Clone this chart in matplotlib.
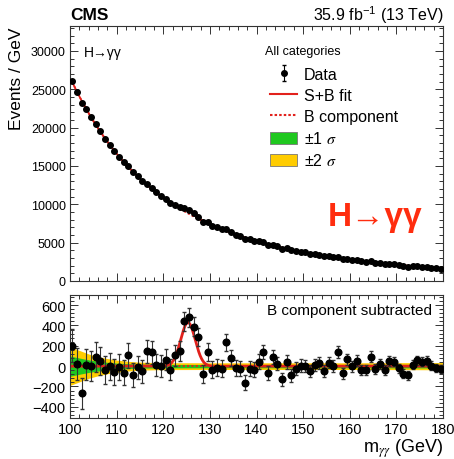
import numpy as np
import matplotlib
matplotlib.use("Agg")
import matplotlib.pyplot as plt
from matplotlib.lines import Line2D
from matplotlib.patches import Patch
from matplotlib.ticker import MultipleLocator

plt.rcParams['font.family'] = ['Liberation Sans', 'DejaVu Sans']
plt.rcParams['mathtext.fontset'] = 'stix'

# diphoton mass bins (1 GeV wide)
mgg = np.arange(100.5, 180.0, 1.0)

# fitted background component, events / GeV
bkg = [25910, 24670, 23510, 22410, 21370, 20390, 19470, 18590, 17770, 16980,
       16240, 15540, 14880, 14250, 13650, 13080, 12540, 12030, 11550, 11090,
       10650, 10230, 9830, 9450, 9090, 8750, 8420, 8110, 7810, 7530,
       7260, 7000, 6750, 6520, 6290, 6070, 5870, 5670, 5480, 5300,
       5120, 4950, 4790, 4640, 4490, 4350, 4210, 4080, 3960, 3840,
       3720, 3610, 3500, 3400, 3300, 3200, 3110, 3020, 2930, 2850,
       2770, 2690, 2610, 2540, 2470, 2400, 2340, 2270, 2210, 2150,
       2090, 2040, 1980, 1930, 1880, 1830, 1780, 1740, 1690, 1650]

# data minus background component, events / GeV
residual = [200, 20, -265, 15, 0, 90, 50, -35, 0, -60,
            -10, -65, 105, -85, -12, -50, 145, 135, 15, 0,
            65, -35, 105, 145, 440, 480, 390, 285, -75, 140,
            -35, -15, -25, 235, 80, -20, -25, -165, -25, -35,
            45, 140, -65, 90, 25, -130, 40, -90, -25, 5,
            0, -50, 15, 30, -45, 35, 0, 140, -70, 70,
            0, 55, -35, -35, 95, -25, 25, -35, 50, 45,
            -20, -75, -90, 15, 60, 45, 55, 5, -20, -25]

# fitted signal peak
sig_mass = 125.3
sig_width = 1.55
sig_peak = 430.0

# background uncertainty bands
band_m = [100, 102, 104, 106, 108, 110, 112, 114, 116, 118, 120,
          130, 140, 150, 160, 170, 180]
band_1s = [100, 80, 62, 48, 38, 30, 25, 21, 19, 18, 17,
           16, 16, 16, 16, 17, 18]
band_2s = [190, 155, 120, 95, 75, 60, 50, 42, 38, 36, 34,
           33, 33, 33, 33, 34, 36]

bkg = np.array(bkg, float)
residual = np.array(residual, float)
data = bkg + residual
err = np.sqrt(data)


def signal(m):
    return sig_peak * np.exp(-0.5 * ((m - sig_mass) / sig_width) ** 2)


RED = '#e2211c'
GREEN = '#1fc81f'
YELLOW = '#ffcc00'
FRAME = '#333333'

W, H = 454, 460
fig = plt.figure(figsize=(W / 100, H / 100), dpi=100)
ax = fig.add_axes([70 / W, 1 - 282 / H, 373 / W, 255 / H])
ax2 = fig.add_axes([70 / W, 1 - 419 / H, 373 / W, 123 / H])


def px_to_ax(a, x, y, top, height):
    """Figure pixel position to axes fraction for the given panel."""
    return (x - 70) / 373, 1 - (y - top) / height


for a in (ax, ax2):
    for s in a.spines.values():
        s.set_color(FRAME)
        s.set_linewidth(0.8)
    a.set_xlim(100, 180)
    a.xaxis.set_major_locator(MultipleLocator(10))
    a.xaxis.set_minor_locator(MultipleLocator(2))
    a.tick_params(which='both', direction='in', top=True, right=True,
                  color=FRAME, width=0.7)
    a.tick_params(which='major', length=6)
    a.tick_params(which='minor', length=3)

# upper panel
ax.set_ylim(0, 33250)
ax.yaxis.set_major_locator(MultipleLocator(5000))
ax.yaxis.set_minor_locator(MultipleLocator(1000))
ax.tick_params(axis='x', labelbottom=False)
ax.tick_params(axis='y', labelsize=9, pad=3)

ax.plot(mgg, bkg, ls=(0, (1.2, 1.2)), color=RED, lw=1.3, zorder=2)
ax.plot(mgg, bkg + signal(mgg), color=RED, lw=1.3, zorder=2)
cont = ax.errorbar(mgg, data, yerr=err, fmt='o', color='k', ms=4.0,
                   elinewidth=0.8, capsize=1.2, zorder=3)

handles = [cont,
           Line2D([], [], color=RED, lw=1.5),
           Line2D([], [], color=RED, lw=1.5, ls=(0, (1.2, 1.0))),
           Patch(facecolor=GREEN, edgecolor='#777777', lw=0.6),
           Patch(facecolor=YELLOW, edgecolor='#777777', lw=0.6)]
labels = ['Data', 'S+B fit', 'B component', '±1 $\\sigma$', '±2 $\\sigma$']
leg = ax.legend(handles, labels, loc='upper left',
                bbox_to_anchor=px_to_ax(ax, 270, 68, 27, 255),
                frameon=False, fontsize=11.5, borderpad=0,
                borderaxespad=0, handlelength=1.7, handletextpad=0.4,
                labelspacing=0.38, handleheight=0.8)
ax.text(*px_to_ax(ax, 265, 55, 27, 255), 'All categories', transform=ax.transAxes,
        fontsize=9, ha='left', va='baseline')

ax.text(*px_to_ax(ax, 84, 57, 27, 255), 'H→γγ', transform=ax.transAxes,
        fontsize=10, va='baseline', ha='left')
ax.text(*px_to_ax(ax, 328, 226, 27, 255), 'H→γγ', transform=ax.transAxes,
        fontsize=24, fontweight='bold', color='#ff2d0f', va='baseline', ha='left')

# lower panel
ax2.set_ylim(-510, 700)
ax2.yaxis.set_major_locator(MultipleLocator(200))
ax2.yaxis.set_minor_locator(MultipleLocator(40))
ax2.tick_params(axis='both', labelsize=10.5, pad=3)
ax2.set_xticks(np.arange(100, 181, 10))

ax2.fill_between(band_m, -np.array(band_2s), band_2s, color=YELLOW, lw=0, zorder=1)
ax2.fill_between(band_m, -np.array(band_1s), band_1s, color=GREEN, lw=0, zorder=1)
mfine = np.linspace(100, 180, 801)
ax2.plot([100, 180], [0, 0], ls=(0, (1.2, 1.2)), color=RED, lw=1.3, zorder=2)
ax2.plot(mfine, signal(mfine), color=RED, lw=2.0, zorder=2)
ax2.errorbar(mgg, residual, yerr=err, fmt='o', color='k', ms=4.8,
             elinewidth=0.8, ecolor='#333333', capsize=1.5, zorder=3)
ax2.text(*px_to_ax(ax2, 432, 315, 296, 123), 'B component subtracted',
         transform=ax2.transAxes, fontsize=11, ha='right', va='baseline')

# labels around the frame
fig.text(70 / W, 1 - 20 / H, 'CMS', fontsize=12.5, fontweight='bold',
         ha='left', va='baseline')
fig.text(443 / W, 1 - 20 / H, '35.9 fb$^{\\mathregular{-1}}$ (13 TeV)',
         fontsize=11.5, ha='right', va='baseline')
fig.text(17 / W, 1 - 28 / H, 'Events / GeV', fontsize=12.5, rotation=90,
         ha='center', va='top')
fig.text(443 / W, 1 - 453 / H, 'm$_{\\gamma\\gamma}$ (GeV)', fontsize=13,
         ha='right', va='baseline')

fig.savefig('out.png', dpi=100)
